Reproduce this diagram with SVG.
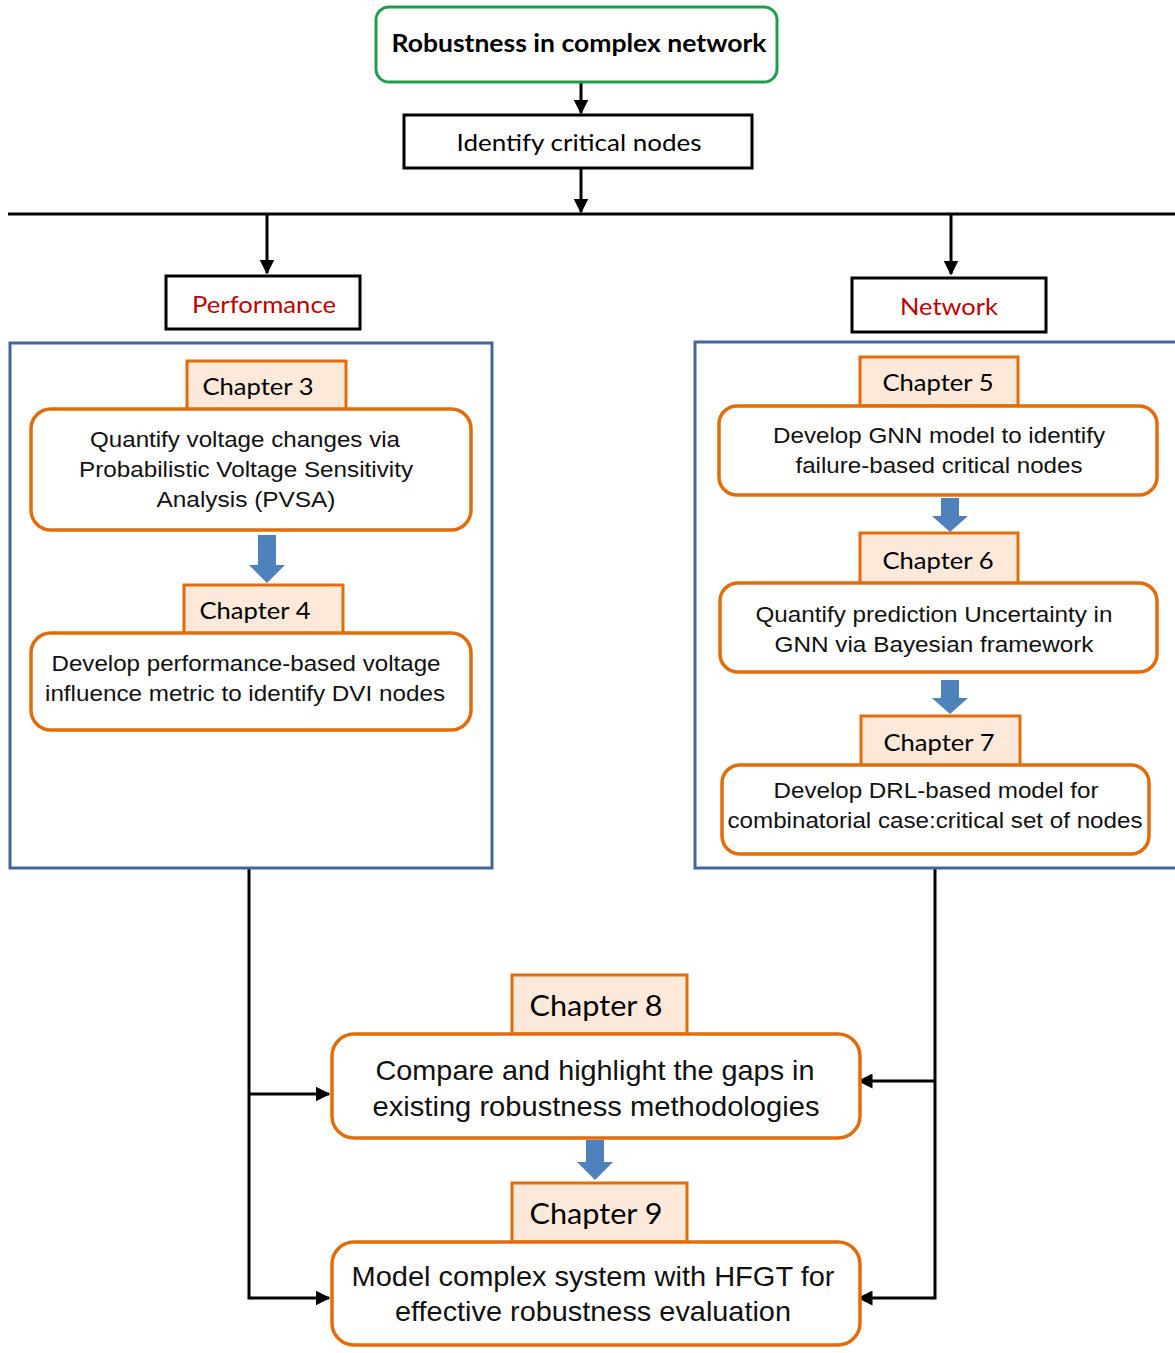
<svg xmlns="http://www.w3.org/2000/svg" width="1175" height="1353" viewBox="0 0 1175 1353">
<style>
.cal{font-family:Lato,"Open Sans","Liberation Sans",sans-serif;fill:#000;text-anchor:middle;dominant-baseline:central}
.ar{font-family:"Liberation Sans",Arial,sans-serif;fill:#111;text-anchor:middle;dominant-baseline:central}
.red{fill:#c00000}
.tab{fill:#fce9d9;stroke:#e36c0a;stroke-width:3}
.box{fill:#fff;stroke:#e36c0a;stroke-width:3.5}
.blk{fill:#fff;stroke:#000;stroke-width:3}
.cont{fill:none;stroke:#41679a;stroke-width:3}
.ln{fill:none;stroke:#000;stroke-width:3}
.bl{fill:#4f81bd}
</style>
<defs>
<marker id="ah" viewBox="0 0 10 10" refX="9" refY="5" markerWidth="5" markerHeight="5" orient="auto" markerUnits="strokeWidth">
<path d="M0,0 L10,5 L0,10 z" fill="#000"/>
</marker>
</defs>

<g id="connectors">
<line class="ln" x1="581" y1="82" x2="581" y2="113" marker-end="url(#ah)"/>
<line class="ln" x1="581" y1="168" x2="581" y2="212" marker-end="url(#ah)"/>
<line class="ln" x1="8" y1="214" x2="1175" y2="214"/>
<line class="ln" x1="267" y1="214" x2="267" y2="273" marker-end="url(#ah)"/>
<line class="ln" x1="951" y1="214" x2="951" y2="274" marker-end="url(#ah)"/>
<polyline class="ln" points="249,868 249,1298 329,1298" marker-end="url(#ah)"/>
<line class="ln" x1="249" y1="1094" x2="329" y2="1094" marker-end="url(#ah)"/>
<polyline class="ln" points="935,868 935,1298 859,1298" marker-end="url(#ah)"/>
<line class="ln" x1="935" y1="1081" x2="859" y2="1081" marker-end="url(#ah)"/>
<path class="bl" d="M258,535 H276 V565 H285 L267,583 L249,565 H258 Z"/>
<path class="bl" d="M941,498 H959 V516 H968 L950,532 L932,516 H941 Z"/>
<path class="bl" d="M941,680 H959 V698 H968 L950,714 L932,698 H941 Z"/>
<path class="bl" d="M586,1140 H604 V1162 H613 L595,1180 L577,1162 H586 Z"/>
</g>

<g id="root">
<rect x="376" y="7" width="401" height="75" rx="13" fill="#fff" stroke="#1e9e4a" stroke-width="3"/>
<text class="cal" x="579" y="42" font-size="24" font-weight="bold" textLength="375" lengthAdjust="spacingAndGlyphs">Robustness in complex network</text>
</g>

<g id="identify">
<rect class="blk" x="404" y="115" width="348" height="53"/>
<text class="cal" x="579" y="141" font-size="24" textLength="245" lengthAdjust="spacingAndGlyphs">Identify critical nodes</text>
</g>

<g id="performance">
<rect class="blk" x="166" y="276" width="194" height="53"/>
<text class="cal red" x="264" y="303" font-size="24" textLength="144" lengthAdjust="spacingAndGlyphs">Performance</text>
</g>

<g id="network">
<rect class="blk" x="852" y="278" width="194" height="54"/>
<text class="cal red" x="949" y="305" font-size="24" textLength="98" lengthAdjust="spacingAndGlyphs">Network</text>
</g>

<g id="performance-group">
<rect class="cont" x="10" y="343" width="482" height="525"/>
</g>
<g id="network-group">
<rect class="cont" x="695" y="342" width="482" height="526"/>
</g>

<g id="ch3">
<rect class="tab" x="187" y="361" width="159" height="49"/>
<text class="cal" x="258" y="385" font-size="24" textLength="111" lengthAdjust="spacingAndGlyphs">Chapter 3</text>
<rect class="box" x="31" y="409" width="440" height="121" rx="20"/>
<text class="ar" x="245" y="439" font-size="22" textLength="310" lengthAdjust="spacingAndGlyphs">Quantify voltage changes via</text>
<text class="ar" x="246" y="469" font-size="22" textLength="334" lengthAdjust="spacingAndGlyphs">Probabilistic Voltage Sensitivity</text>
<text class="ar" x="246" y="499" font-size="22" textLength="179" lengthAdjust="spacingAndGlyphs">Analysis (PVSA)</text>
</g>

<g id="ch4">
<rect class="tab" x="184" y="585" width="159" height="50"/>
<text class="cal" x="255" y="609" font-size="24" textLength="111" lengthAdjust="spacingAndGlyphs">Chapter 4</text>
<rect class="box" x="31" y="633" width="440" height="97" rx="20"/>
<text class="ar" x="246" y="663" font-size="22" textLength="389" lengthAdjust="spacingAndGlyphs">Develop performance-based voltage</text>
<text class="ar" x="245" y="693" font-size="22" textLength="400" lengthAdjust="spacingAndGlyphs">influence metric to identify DVI nodes</text>
</g>

<g id="ch5">
<rect class="tab" x="860" y="357" width="158" height="49"/>
<text class="cal" x="938" y="381" font-size="24" textLength="111" lengthAdjust="spacingAndGlyphs">Chapter 5</text>
<rect class="box" x="719" y="406" width="438" height="89" rx="18"/>
<text class="ar" x="939" y="435" font-size="22" textLength="332" lengthAdjust="spacingAndGlyphs">Develop GNN model to identify</text>
<text class="ar" x="939" y="465" font-size="22" textLength="287" lengthAdjust="spacingAndGlyphs">failure-based critical nodes</text>
</g>

<g id="ch6">
<rect class="tab" x="860" y="533" width="158" height="51"/>
<text class="cal" x="938" y="559" font-size="24" textLength="111" lengthAdjust="spacingAndGlyphs">Chapter 6</text>
<rect class="box" x="720" y="583" width="437" height="89" rx="18"/>
<text class="ar" x="934" y="614" font-size="22" textLength="357" lengthAdjust="spacingAndGlyphs">Quantify prediction Uncertainty in</text>
<text class="ar" x="934" y="644" font-size="22" textLength="319" lengthAdjust="spacingAndGlyphs">GNN via Bayesian framework</text>
</g>

<g id="ch7">
<rect class="tab" x="861" y="716" width="159" height="50"/>
<text class="cal" x="939" y="741" font-size="24" textLength="111" lengthAdjust="spacingAndGlyphs">Chapter 7</text>
<rect class="box" x="722" y="765" width="427" height="89" rx="18"/>
<text class="ar" x="936" y="790" font-size="22" textLength="325" lengthAdjust="spacingAndGlyphs">Develop DRL-based model for</text>
<text class="ar" x="935" y="820" font-size="22" textLength="415" lengthAdjust="spacingAndGlyphs">combinatorial case:critical set of nodes</text>
</g>

<g id="ch8">
<rect class="tab" x="512" y="975" width="175" height="59"/>
<text class="cal" x="596" y="1004" font-size="29" textLength="133" lengthAdjust="spacingAndGlyphs">Chapter 8</text>
<rect class="box" x="332" y="1034" width="528" height="104" rx="22"/>
<text class="ar" x="595" y="1070" font-size="28" textLength="439" lengthAdjust="spacingAndGlyphs">Compare and highlight the gaps in</text>
<text class="ar" x="596" y="1106" font-size="28" textLength="447" lengthAdjust="spacingAndGlyphs">existing robustness methodologies</text>
</g>

<g id="ch9">
<rect class="tab" x="512" y="1183" width="175" height="59"/>
<text class="cal" x="596" y="1212" font-size="29" textLength="133" lengthAdjust="spacingAndGlyphs">Chapter 9</text>
<rect class="box" x="332" y="1242" width="528" height="103" rx="22"/>
<text class="ar" x="593" y="1276" font-size="28" textLength="483" lengthAdjust="spacingAndGlyphs">Model complex system with HFGT for</text>
<text class="ar" x="593" y="1311" font-size="28" textLength="396" lengthAdjust="spacingAndGlyphs">effective robustness evaluation</text>
</g>
</svg>
